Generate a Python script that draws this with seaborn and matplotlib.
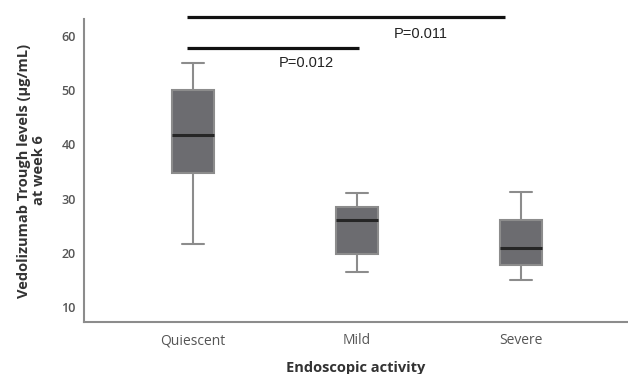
import pandas as pd
import matplotlib
matplotlib.use('Agg')
import matplotlib.pyplot as plt
import seaborn as sns

# five-number summaries (min, q1, median, q3, max)
categories = ['Quiescent', 'Mild', 'Severe']
quiescent = [21.6, 34.8, 41.8, 50.0, 55.1]
mild = [16.4, 19.7, 26.0, 28.5, 31.0]
severe = [15.0, 17.8, 20.8, 26.0, 31.2]
yticks = [10, 20, 30, 40, 50, 60]

# significance brackets: (x start, x end, y level, label, label x, label y)
brackets = [
    (-0.04, 1.90, 63.5, 'P=0.011', 1.39, 60.4),
    (-0.04, 1.01, 57.8, 'P=0.012', 0.69, 55.0),
]

rows = []
for cat, vals in zip(categories, [quiescent, mild, severe]):
    for v in vals:
        rows.append({'activity': cat, 'level': v})
df = pd.DataFrame(rows)

sns.set_style('white')
plt.rcParams['font.family'] = ['Open Sans', 'DejaVu Sans']

fig = plt.figure(figsize=(6.28, 3.74), dpi=100)
ax = fig.add_axes([0.1338, 0.139, 0.8662, 0.81])

gray = '#8c8c8c'
sns.boxplot(data=df, x='activity', y='level', order=categories, whis=(0, 100),
            width=0.26, color='#6c6c70', linecolor=gray, linewidth=1.5,
            medianprops={'color': '#262626', 'linewidth': 2.2},
            saturation=1, ax=ax)

ax.set_xlim(-0.665, 2.652)
ax.set_ylim(7.23, 63.14)
ax.set_yticks(yticks)

for x0, x1, yb, lab, lx, ly in brackets:
    ax.plot([x0, x1], [yb, yb], color='#111111', lw=2.3, clip_on=False,
            solid_capstyle='butt')
    ax.text(lx, ly, lab, ha='center', va='center', fontsize=10.5,
            family=['Liberation Sans', 'DejaVu Sans'], color='#222222')

sns.despine(ax=ax)
for s in ['left', 'bottom']:
    ax.spines[s].set_color(gray)
    ax.spines[s].set_linewidth(1.5)
ax.tick_params(axis='both', length=0, colors='#555555')
ax.tick_params(axis='y', pad=6, labelsize=9)
ax.tick_params(axis='x', pad=8, labelsize=10)
for t in ax.get_yticklabels():
    t.set_fontweight('semibold')

ax.set_xlabel('Endoscopic activity', fontsize=10.5, fontweight='bold',
              color='#333333', labelpad=9)
ax.set_ylabel('Vedolizumab Trough levels (\u03bcg/mL)\nat week 6', fontsize=10.5,
              fontweight='bold', color='#333333', labelpad=11, linespacing=1.05)

fig.savefig('out.png', dpi=100)
